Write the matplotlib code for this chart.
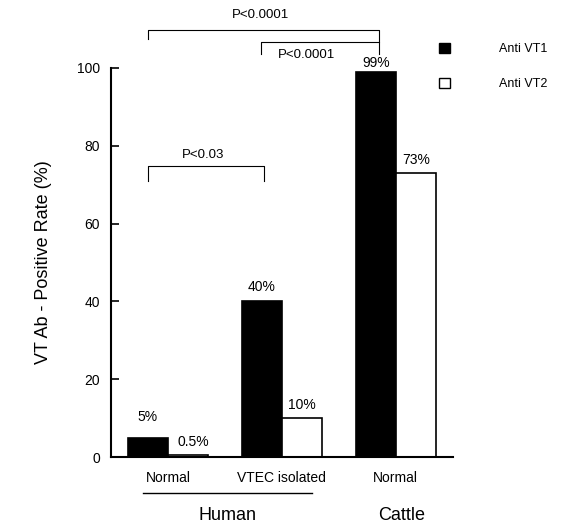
import matplotlib
matplotlib.use("Agg")
import matplotlib.pyplot as plt
import numpy as np
from matplotlib.patches import Patch

plt.rcParams['font.family'] = ['Liberation Sans', 'DejaVu Sans']

# data
groups = ['Normal', 'VTEC isolated', 'Normal']
vt1 = [5, 40, 99]
vt2 = [0.5, 10, 73]
vt1_labels = ['5%', '40%', '99%']
vt2_labels = ['0.5%', '10%', '73%']
series_names = ['Anti VT1', 'Anti VT2']
yticks = [0, 20, 40, 60, 80, 100]

fig = plt.figure(figsize=(5.66, 5.25), dpi=100)
ax = fig.add_axes([0.196, 0.1295, 0.604, 0.741])

x = np.arange(len(groups))
w = 0.35
ax.bar(x - w / 2, vt1, w, color='black', edgecolor='black', linewidth=1.2)
ax.bar(x + w / 2, vt2, w, color='white', edgecolor='black', linewidth=1.2)

# value labels (small nudges to sit like the original)
vt1_off = [3.5, 1.8, 0.5]
vt2_off = [1.5, 1.5, 1.5]
for i in range(len(groups)):
    ax.text(x[i] - w / 2, vt1[i] + vt1_off[i], vt1_labels[i], ha='center', va='bottom', fontsize=10)
    dx = 0.05 if i == 0 else 0
    ax.text(x[i] + w / 2 + dx, vt2[i] + vt2_off[i], vt2_labels[i], ha='center', va='bottom', fontsize=10)

ax.set_xlim(-0.5, 2.5)
ax.set_ylim(0, 100)
ax.set_yticks(yticks)
ax.set_xticks(x)
ax.set_xticklabels(groups, fontsize=10)
ax.tick_params(axis='x', length=0, pad=10)
ax.tick_params(axis='y', direction='in', length=6, width=1.2, labelsize=10, pad=8)
ax.spines['top'].set_visible(False)
ax.spines['right'].set_visible(False)
ax.spines['left'].set_linewidth(1.5)
ax.spines['bottom'].set_linewidth(1.5)
ax.set_ylabel('VT Ab - Positive Rate (%)', fontsize=13, labelpad=18)

# significance brackets
def bracket(x1, x2, ytop, yl, yr, txt, tx, ty):
    ax.plot([x1, x1, x2, x2], [yl, ytop, ytop, yr], color='black', lw=0.8, clip_on=False)
    ax.text(tx, ty, txt, ha='center', va='center', fontsize=9.5)

bracket(-0.175, 1.85, 109.8, 107.4, 106.6, 'P<0.0001', 0.81, 113.6)
bracket(0.82, 1.85, 106.7, 103.6, 103.6, 'P<0.0001', 1.22, 103.3)
bracket(-0.175, 0.84, 74.8, 71.0, 71.0, 'P<0.03', 0.31, 77.6)

# legend
handles = [Patch(facecolor='black', edgecolor='black'),
           Patch(facecolor='white', edgecolor='black')]
fig.legend(handles, series_names, loc='upper left', bbox_to_anchor=(0.756, 0.94),
           frameon=False, fontsize=9, handlelength=0.9, handleheight=0.9,
           handletextpad=3.9, labelspacing=1.8)

# group labels
fig.add_artist(plt.Line2D([143 / 566, 312 / 566], [1 - 493 / 525, 1 - 493 / 525],
                          color='black', lw=1))
fig.text(227 / 566, 1 - 516 / 525, 'Human', ha='center', va='center', fontsize=13)
fig.text(402 / 566, 1 - 516 / 525, 'Cattle', ha='center', va='center', fontsize=13)

fig.savefig('out.png', dpi=100)
